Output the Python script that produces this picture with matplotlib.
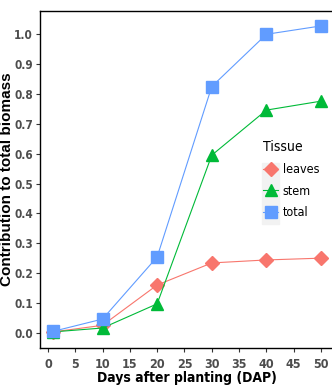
import matplotlib
matplotlib.use("Agg")
import matplotlib.pyplot as plt
from matplotlib.lines import Line2D
from matplotlib.patches import Rectangle

# data
days = [1, 10, 20, 30, 40, 50]
leaves = [0.003, 0.025, 0.160, 0.234, 0.244, 0.250]
stem = [0.003, 0.016, 0.097, 0.595, 0.746, 0.776]
total = [0.005, 0.046, 0.254, 0.825, 1.000, 1.028]
tissues = ["leaves", "stem", "total"]
colors = ["#F8766D", "#00BA38", "#619CFF"]
markers = ["D", "^", "s"]
msizes = [7, 9, 8.5]

narrow = ["DejaVu Sans"]

fig = plt.figure(figsize=(3.32, 3.88), dpi=100)
ax = fig.add_axes([40 / 332, 40 / 388, 294.4 / 332, 337 / 388])

for vals, c, m, ms in zip([leaves, stem, total], colors, markers, msizes):
    ax.plot(days, vals, color=c, lw=0.8, marker=m, ms=ms, mec=c, mfc=c)

ax.set_xlim(-1.45, 52.45)
ax.set_ylim(-0.051, 1.078)
ax.set_xticks(range(0, 51, 5))
ax.set_yticks([i / 10 for i in range(11)])
ax.set_yticklabels([f"{i / 10:.1f}" for i in range(11)])

for side in ["left", "bottom", "top"]:
    ax.spines[side].set_color("black")
    ax.spines[side].set_linewidth(1.0)
ax.spines["right"].set_visible(False)
ax.tick_params(length=3, width=0.8, color="#333333")
ax.tick_params(axis="x", pad=4)
ax.tick_params(axis="y", pad=2)
for lab in ax.get_xticklabels() + ax.get_yticklabels():
    lab.set_family(narrow)
    lab.set_stretch("condensed")
    lab.set_fontweight("bold")
    lab.set_fontsize(9)
    lab.set_color("#4D4D4D")
for lab in ax.get_yticklabels():
    lab.set_fontsize(8.5)

ax.set_xlabel("Days after planting (DAP)", family=narrow, stretch="condensed",
              fontweight="bold", fontsize=10, color="black")
ax.xaxis.set_label_coords(0.5, -0.068)
ax.set_ylabel("Contribution to total biomass", family=["Liberation Sans", "DejaVu Sans"],
              fontweight="bold", fontsize=11, color="black")
ax.yaxis.set_label_coords(-0.09, 0.5)

# legend keys with grey background
fig.patches.append(Rectangle((262 / 332, 1 - 224 / 388), 17 / 332, 61 / 388,
                             transform=fig.transFigure, color="#F2F2F2", zorder=0))
handles = [Line2D([0], [0], color=c, lw=0.8, marker=m, ms=ms, mec=c, mfc=c)
           for c, m, ms in zip(colors, markers, msizes)]
leg = fig.legend(handles, tissues, title="Tissue", loc="upper left",
                 bbox_to_anchor=(252 / 332, 1 - 129 / 388), frameon=False,
                 handlelength=1.2, handletextpad=0.35, labelspacing=0.7,
                 prop={"family": narrow, "stretch": "condensed", "size": 9},
                 title_fontproperties={"family": narrow, "stretch": "condensed", "size": 10})
leg._legend_box.align = "left"

fig.savefig("out.png", dpi=100)
